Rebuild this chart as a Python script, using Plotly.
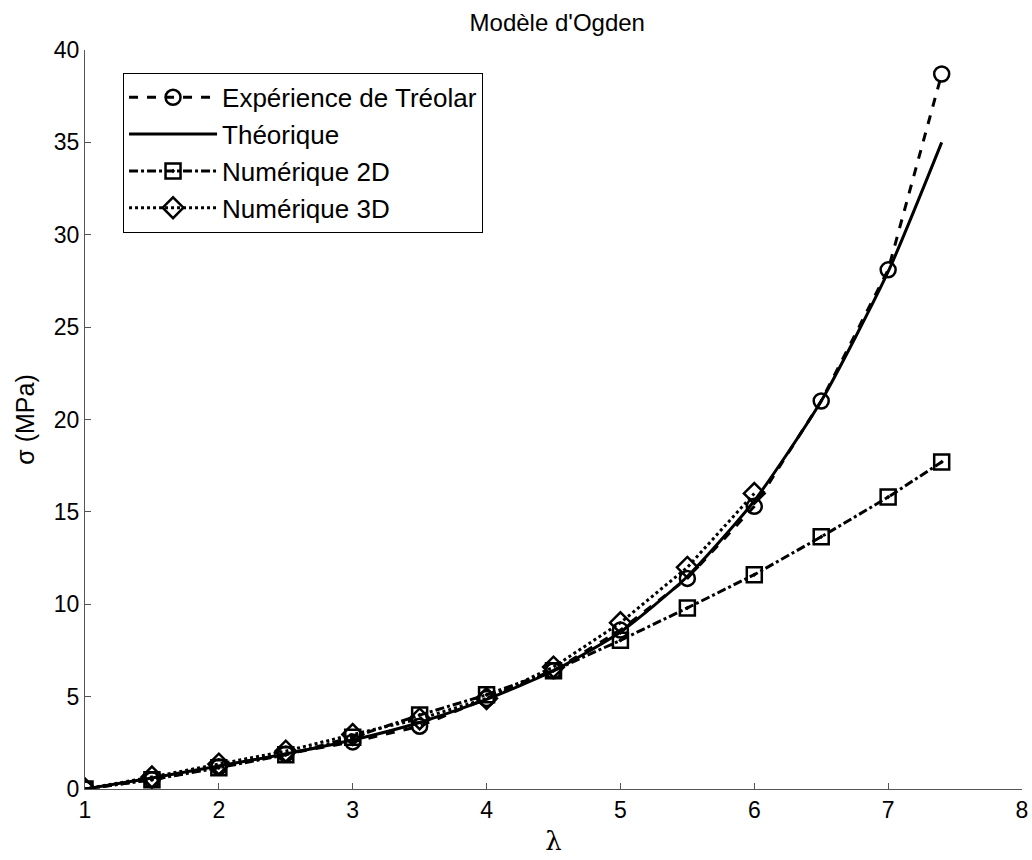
import plotly.graph_objects as go

# Stretch ratio samples
lam_exp = [1, 1.5, 2, 2.5, 3, 3.5, 4, 4.5, 5, 5.5, 6, 6.5, 7, 7.4]
sig_exp = [0, 0.5, 1.2, 1.9, 2.55, 3.4, 4.9, 6.4, 8.6, 11.4, 15.3, 21.0, 28.1, 38.7]

lam_theo = [1, 1.5, 2, 2.5, 3, 3.5, 4, 4.5, 5, 5.5, 6, 6.5, 7, 7.4]
sig_theo = [0, 0.6, 1.25, 1.9, 2.65, 3.6, 4.85, 6.4, 8.5, 11.5, 15.6, 21.0, 28.0, 35.0]

lam_2d = [1, 1.5, 2, 2.5, 3, 3.5, 4, 4.5, 5, 5.5, 6, 6.5, 7, 7.4]
sig_2d = [0, 0.5, 1.15, 1.85, 2.8, 4.0, 5.1, 6.4, 8.05, 9.8, 11.6, 13.65, 15.8, 17.7]

lam_3d = [1, 1.5, 2, 2.5, 3, 3.5, 4, 4.5, 5, 5.5, 6]
sig_3d = [0, 0.65, 1.35, 2.05, 2.95, 3.8, 4.9, 6.6, 9.0, 12.0, 16.0]

x_ticks = [1, 2, 3, 4, 5, 6, 7, 8]
y_ticks = [0, 5, 10, 15, 20, 25, 30, 35, 40]

FONT = "Liberation Sans, Arial, sans-serif"
LW = 3

fig = go.Figure()

fig.add_trace(go.Scatter(
    x=lam_exp, y=sig_exp, name="Expérience de Tréolar", mode="lines+markers",
    line=dict(color="black", width=LW, dash="dash"),
    marker=dict(symbol="circle-open", size=15, color="black", line=dict(width=2.5)),
))
fig.add_trace(go.Scatter(
    x=lam_theo, y=sig_theo, name="Théorique", mode="lines",
    line=dict(color="black", width=LW, shape="spline", smoothing=0.6),
))
fig.add_trace(go.Scatter(
    x=lam_2d, y=sig_2d, name="Numérique 2D", mode="lines+markers",
    line=dict(color="black", width=LW, dash="dashdot"),
    marker=dict(symbol="square-open-dot", size=15, color="black", line=dict(width=2.5)),
))
fig.add_trace(go.Scatter(
    x=lam_3d, y=sig_3d, name="Numérique 3D", mode="lines+markers",
    line=dict(color="black", width=LW, dash="dot"),
    marker=dict(symbol="diamond-open", size=16, color="black", line=dict(width=2.5)),
))

fig.update_layout(
    width=1032, height=860,
    margin=dict(l=85, r=10, t=50, b=71),
    paper_bgcolor="white", plot_bgcolor="white",
    font=dict(family=FONT, size=24, color="black"),
    title=dict(text="Modèle d'Ogden", x=0.54, xanchor="center", y=0.974, yanchor="middle",
               font=dict(size=24)),
    xaxis=dict(
        range=[1, 8], tickvals=x_ticks, ticks="inside", ticklen=6, tickcolor="#555",
        showline=True, linecolor="#555", linewidth=1, showgrid=False, zeroline=False,
        tickfont=dict(size=23), automargin=False,
        title=dict(text="λ", font=dict(size=26, family="DejaVu Serif"), standoff=10),
    ),
    yaxis=dict(
        range=[0, 40], tickvals=y_ticks, ticks="inside", ticklen=6, tickcolor="#555",
        showline=True, linecolor="#555", linewidth=1, showgrid=False, zeroline=False,
        tickfont=dict(size=23), automargin=False,
        title=dict(text="σ (MPa)", font=dict(size=25), standoff=12),
    ),
    legend=dict(
        x=0.0406, y=0.969, xanchor="left", yanchor="top",
        bgcolor="white", bordercolor="black", borderwidth=1,
        font=dict(size=26), itemwidth=88,
    ),
    showlegend=True,
)

fig.write_html("out.html")
